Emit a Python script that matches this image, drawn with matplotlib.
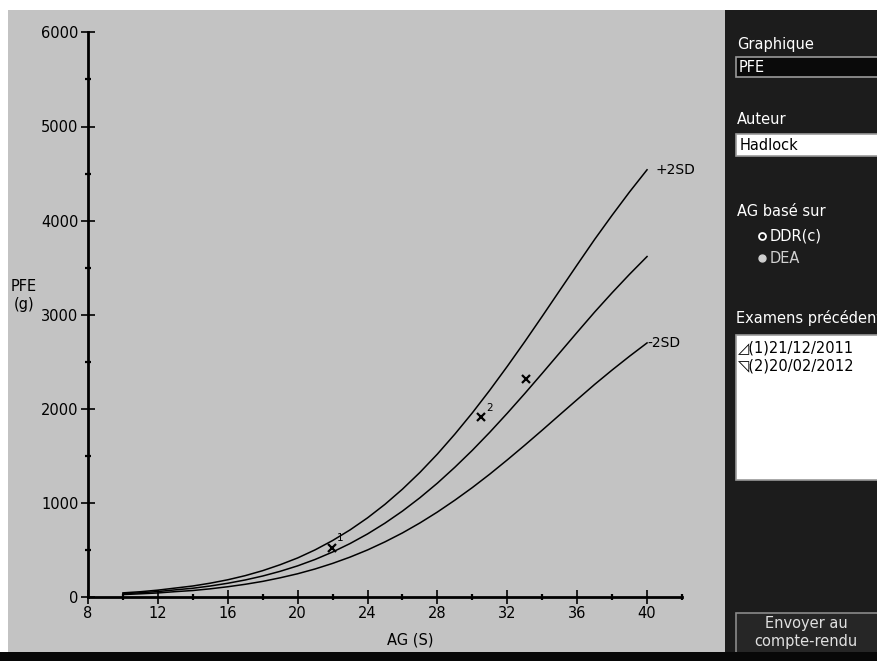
import matplotlib
matplotlib.use('Agg')
import matplotlib.pyplot as plt
from matplotlib.patches import Rectangle

# Hadlock estimated fetal weight (g) vs gestational age (weeks)
ag_weeks = [10, 11, 12, 13, 14, 15, 16, 17, 18, 19, 20, 21, 22, 23, 24, 25,
            26, 27, 28, 29, 30, 31, 32, 33, 34, 35, 36, 37, 38, 39, 40]
pfe_mean = [35, 45, 58, 76, 93, 117, 146, 181, 223, 273, 331, 399, 478, 568, 670, 785,
            913, 1055, 1210, 1379, 1559, 1751, 1953, 2162, 2377, 2595, 2813, 3028, 3233, 3430, 3618]
pfe_plus2sd = [44, 56, 73, 95, 117, 147, 183, 227, 280, 343, 415, 501, 600, 713, 841, 985,
               1146, 1324, 1519, 1731, 1957, 2198, 2451, 2713, 2983, 3257, 3530, 3800, 4057, 4305, 4540]
pfe_minus2sd = [26, 34, 43, 57, 69, 87, 109, 135, 166, 204, 247, 298, 357, 424, 500, 586,
                681, 787, 903, 1029, 1163, 1306, 1457, 1613, 1773, 1936, 2098, 2259, 2412, 2559, 2700]

# exam points
exam_ag = [21.95, 30.5, 33.05]
exam_pfe = [526, 1915, 2320]
exam_num = ['1', '2', '']

previous_exams = ['\u25ff(1)21/12/2011', '\u25f9(2)20/02/2012']

W, H = 878, 661
GRAY = '#c3c3c3'
DARK = '#1c1c1c'
plt.rcParams['font.family'] = ['DejaVu Sans']

fig = plt.figure(figsize=(W / 100, H / 100), dpi=100)
fig.patch.set_facecolor('white')


def fbox(x0, y0, x1, y1):
    # pixel box (origin top-left) -> figure fraction rect
    return [x0 / W, 1 - y1 / H, (x1 - x0) / W, (y1 - y0) / H]


# chart area
ax = fig.add_axes(fbox(8, 10, 725, 652))
ax.set_facecolor(GRAY)
px_x0, px_per_wk = 88, 17.47
px_y0, px_per_g = 597, 0.0941
ax.set_xlim(8 - (px_x0 - 8) / px_per_wk, 8 + (725 - px_x0) / px_per_wk)
ax.set_ylim(-(652 - px_y0) / px_per_g, (px_y0 - 10) / px_per_g)

for s in ['top', 'right']:
    ax.spines[s].set_visible(False)
ax.spines['left'].set_position(('data', 8))
ax.spines['bottom'].set_position(('data', 0))
ax.spines['left'].set_bounds(0, 6000)
ax.spines['bottom'].set_bounds(8, 42)
for s in ['left', 'bottom']:
    ax.spines[s].set_linewidth(2)

ax.set_xticks(range(8, 41, 4))
ax.set_xticks(range(10, 43, 4), minor=True)
ax.set_yticks(range(0, 6001, 1000))
ax.set_yticks(range(500, 6000, 1000), minor=True)
ax.tick_params(which='major', direction='inout', length=9.5, width=1.2,
               labelsize=10.5, pad=2)
ax.tick_params(which='minor', direction='inout', length=5, width=1.6)

ax.plot(ag_weeks, pfe_plus2sd, color='black', lw=1.1)
ax.plot(ag_weeks, pfe_mean, color='black', lw=1.1)
ax.plot(ag_weeks, pfe_minus2sd, color='black', lw=1.1)
ax.annotate('+2SD', (ag_weeks[-1], pfe_plus2sd[-1]), xytext=(6, 0),
            textcoords='offset points', va='center', fontsize=10)
ax.annotate('-2SD', (ag_weeks[-1], pfe_minus2sd[-1]), xytext=(0, 0),
            textcoords='offset points', va='center', fontsize=10)

ax.plot(exam_ag, exam_pfe, 'x', ms=6, mew=1.6, color='black')
for a, p, n in zip(exam_ag, exam_pfe, exam_num):
    if n:
        ax.annotate(n, (a, p), xytext=(4, 3), textcoords='offset points',
                    fontsize=7.5, va='bottom')

fig.text(24 / W, 1 - 296 / H, 'PFE\n(g)', ha='center', va='center',
         fontsize=10.5, linespacing=1.25)
fig.text(410 / W, 1 - 640 / H, 'AG (S)', ha='center', va='center', fontsize=10.5)

# right side panel
pax = fig.add_axes(fbox(725, 10, 878, 652))
pax.set_facecolor(DARK)
pax.set_xlim(725, 878)
pax.set_ylim(652, 10)
pax.set_xticks([])
pax.set_yticks([])
for s in pax.spines.values():
    s.set_visible(False)

fs = 10.5
pax.text(737, 44, 'Graphique', color='white', fontsize=fs, va='center')
pax.add_patch(Rectangle((736, 57), 160, 20, facecolor='#0a0a0a', edgecolor='#9a9a9a', lw=1.2))
pax.text(739, 67, 'PFE', color='white', fontsize=fs, va='center')

pax.text(737, 119, 'Auteur', color='white', fontsize=fs, va='center')
pax.add_patch(Rectangle((736, 134), 160, 22, facecolor='white', edgecolor='#9a9a9a', lw=1.2))
pax.text(740, 145, 'Hadlock', color='black', fontsize=fs, va='center')

pax.text(737, 211, 'AG basé sur', color='white', fontsize=fs, va='center')
pax.plot([762], [236], 'o', ms=5, mfc=DARK, mec='white', mew=1.3)
pax.text(770, 236, 'DDR(c)', color='white', fontsize=fs, va='center')
pax.plot([762], [258], 'o', ms=5, mfc='#cfcfcf', mec='#cfcfcf')
pax.text(770, 258, 'DEA', color='#d0d0d0', fontsize=fs, va='center')

# label is clipped by the panel edge, as on the screen
pax.text(736, 318, 'Examens précédents', color='white', fontsize=fs,
         va='center', clip_on=True)
pax.add_patch(Rectangle((736, 335), 160, 145, facecolor='white', edgecolor='#9a9a9a', lw=1.2))
for i, item in enumerate(previous_exams):
    pax.text(738, 348 + i * 18, item, color='black', fontsize=fs, va='center')

pax.add_patch(Rectangle((736, 613), 160, 45, facecolor='#262626', edgecolor='#8a8a8a', lw=1.2))
pax.text(806, 623, 'Envoyer au', color='#e0e0e0', fontsize=fs, ha='center', va='center')
pax.text(806, 641, 'compte-rendu', color='#e0e0e0', fontsize=fs, ha='center', va='center')

# bottom dark band
fig.add_artist(Rectangle((0, 0), 1, 9 / H, transform=fig.transFigure,
                         facecolor='#080808', edgecolor='none'))

fig.savefig('out.png', dpi=100, facecolor=fig.get_facecolor())
